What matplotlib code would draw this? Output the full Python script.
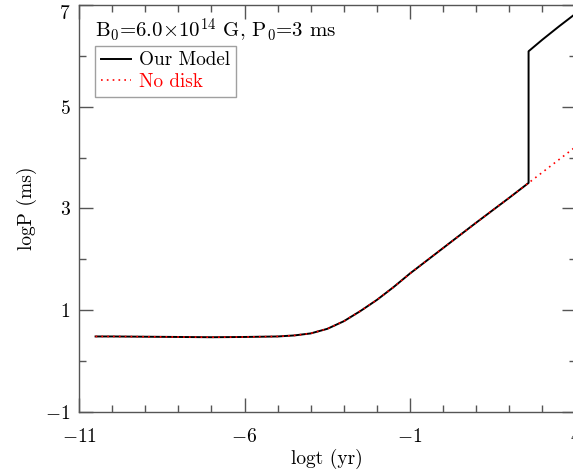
import numpy as np
import matplotlib
matplotlib.use("Agg")
import matplotlib.pyplot as plt
from matplotlib.ticker import MultipleLocator

plt.rcParams['font.family'] = 'cmr10'
plt.rcParams['mathtext.fontset'] = 'cm'
plt.rcParams['axes.formatter.use_mathtext'] = True

# spin period evolution, log t (yr) vs log P (ms)
logt_model = [-10.5, -10, -9, -8, -7, -6, -5, -4.5, -4, -3.5, -3, -2.5, -2,
              -1.5, -1, 0, 1, 2, 2.58, 2.58, 3, 3.5, 4.1]
logp_model = [0.48, 0.48, 0.475, 0.47, 0.465, 0.47, 0.48, 0.50, 0.54, 0.63,
              0.78, 0.98, 1.20, 1.45, 1.72, 2.22, 2.72, 3.21, 3.50, 6.09,
              6.32, 6.58, 6.88]

logt_nodisk = [-10.5, -10, -9, -8, -7, -6, -5, -4.5, -4, -3.5, -3, -2.5, -2,
               -1.5, -1, 0, 1, 2, 2.58, 3, 3.5, 4.1]
logp_nodisk = [0.48, 0.48, 0.475, 0.47, 0.465, 0.47, 0.48, 0.50, 0.54, 0.63,
               0.78, 0.98, 1.20, 1.45, 1.72, 2.22, 2.72, 3.21, 3.50, 3.71,
               3.96, 4.26]

xticks = [-11, -6, -1, 4]
yticks = [-1, 1, 3, 5, 7]

fig = plt.figure(figsize=(5.73, 4.73), dpi=100)
ax = fig.add_axes([0.1379, 0.1296, 0.8666, 0.8598])

ax.plot(logt_model, logp_model, color='black', lw=1.4, label='Our Model')
ax.plot(logt_nodisk, logp_nodisk, color='red', lw=1.2, ls=(0, (1, 2.5)),
        label='No disk')

ax.set_xlim(-11, 4)
ax.set_ylim(-1, 7)
ax.set_xticks(xticks)
ax.xaxis.set_minor_locator(MultipleLocator(1))
ax.set_yticks(yticks)
ax.yaxis.set_minor_locator(MultipleLocator(1))

axcol = '#555555'
for s in ax.spines.values():
    s.set_color(axcol)
    s.set_linewidth(1.0)
ax.tick_params(which='both', direction='in', top=True, right=True,
               color=axcol, labelsize=14)
ax.tick_params(which='major', length=10, width=1.0)
ax.tick_params(which='minor', length=5, width=1.0)
ax.tick_params(axis='x', pad=12)
ax.tick_params(axis='y', pad=6)

# top label sits just under the frame edge
fig.canvas.draw()
ax.get_yticklabels()[-1].set_va('top')

ax.set_xlabel('logt (yr)', fontsize=14, labelpad=2)
ax.set_ylabel('logP (ms)', fontsize=14, labelpad=6)

ax.text(0.032, 0.921, r'B$_0$=6.0$\times$10$^{14}$ G, P$_0$=3 ms',
        transform=ax.transAxes, fontsize=15, va='baseline')

leg = ax.legend(loc='upper left', bbox_to_anchor=(0.032, 0.9),
                fontsize=13.8, frameon=True, fancybox=False, borderpad=0.3,
                handlelength=1.6, handletextpad=0.4, labelspacing=0.2,
                borderaxespad=0)
leg.get_frame().set_edgecolor('#888888')
leg.get_frame().set_linewidth(1.0)
leg.get_texts()[1].set_color('red')

fig.savefig('out.png', dpi=100)
